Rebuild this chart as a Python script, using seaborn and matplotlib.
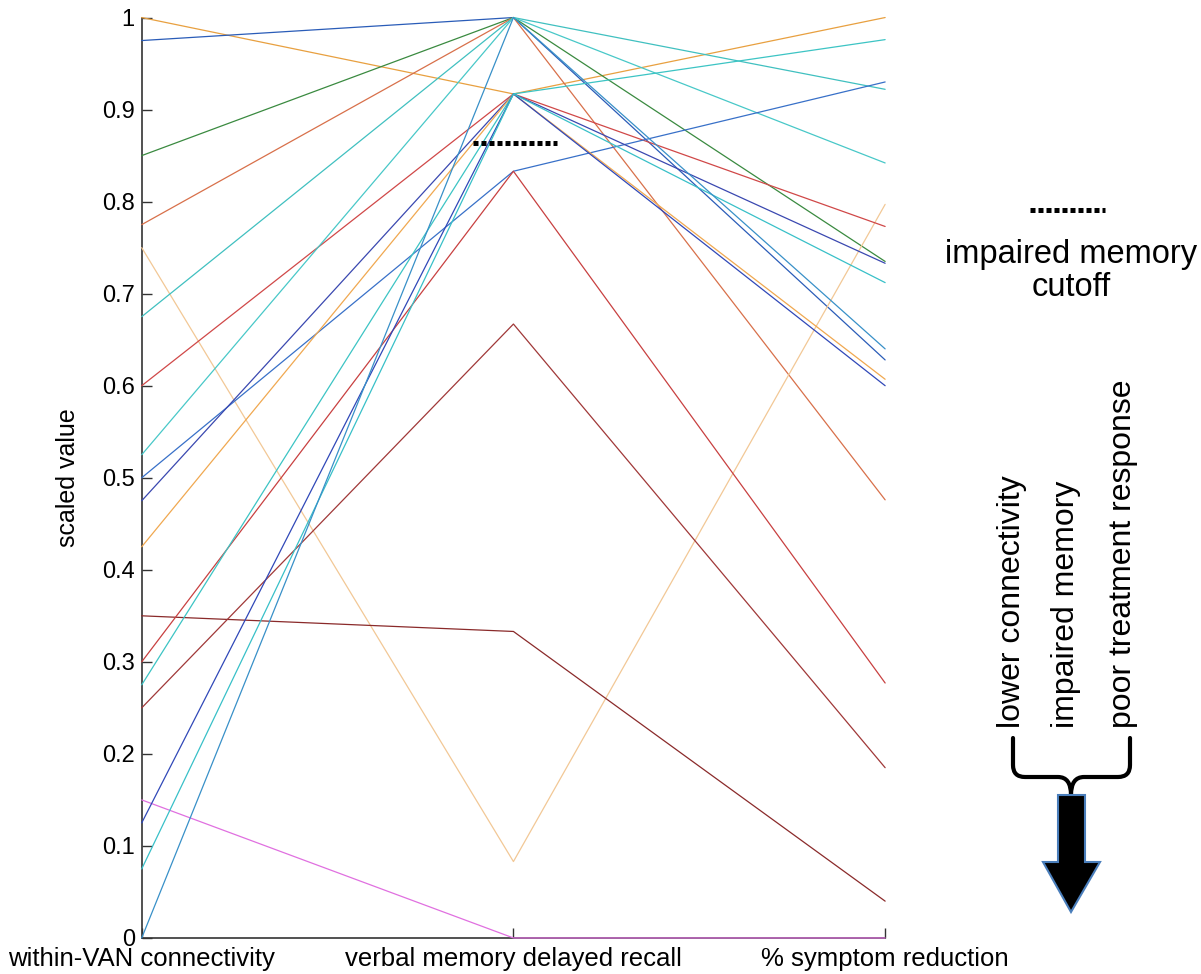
import matplotlib

matplotlib.use("Agg")

import matplotlib.pyplot as plt
import numpy as np
import pandas as pd
import seaborn as sns
from matplotlib.patches import PathPatch, Polygon
from matplotlib.path import Path

# parallel coordinates, one line per patient (scaled 0..1 on each axis)
AXIS_LABELS = [
    "within-VAN connectivity",
    "verbal memory delayed recall",
    "% symptom reduction",
]
VAN = [1.0, 0.975, 0.85, 0.775, 0.75, 0.675, 0.6, 0.525, 0.5, 0.475,
       0.425, 0.35, 0.3, 0.275, 0.25, 0.15, 0.125, 0.075, 0.0]
MEMORY = [0.917, 1.0, 1.0, 1.0, 0.083, 1.0, 0.917, 1.0, 0.833, 0.917,
          0.917, 0.333, 0.833, 0.917, 0.667, 0.0, 0.917, 0.917, 1.0]
SYMPTOM = [1.0, 0.628, 0.735, 0.476, 0.797, 0.922, 0.773, 0.842, 0.93, 0.733,
           0.607, 0.04, 0.277, 0.976, 0.185, 0.0, 0.6, 0.712, 0.64]
COLORS = ["#e8a040", "#2a5cb8", "#3a8a40", "#d8704a", "#f2c896", "#40c0c0",
          "#d04848", "#48c8c8", "#3870c8", "#3a48b0", "#f0a850", "#8a2a2a",
          "#c84040", "#3cc4c4", "#a03838", "#e070e0", "#3048b8", "#38c0c8",
          "#3890c8"]
CUTOFF = 0.864
YTICKS = [0, 0.1, 0.2, 0.3, 0.4, 0.5, 0.6, 0.7, 0.8, 0.9, 1]

sns.set_theme(style="ticks")
plt.rcParams["font.family"] = ["Liberation Sans", "DejaVu Sans"]
plt.rcParams.update({"text.color": "black", "axes.labelcolor": "black",
                     "xtick.labelcolor": "black", "ytick.labelcolor": "black"})

subjects = [f"s{i:02d}" for i in range(len(VAN))]
wide = pd.DataFrame({"subject": subjects, "0": VAN, "1": MEMORY, "2": SYMPTOM})
df = wide.melt(id_vars="subject", var_name="axis", value_name="scaled")
df["axis"] = df["axis"].astype(int)

fig = plt.figure(figsize=(12.01, 9.74), dpi=100)
ax = fig.add_axes([0.118, 0.037, 0.619, 0.945])
sns.lineplot(
    df, x="axis", y="scaled", hue="subject", units="subject", estimator=None,
    palette=dict(zip(subjects, COLORS)), linewidth=0.9, legend=False, ax=ax,
)
for line in ax.lines:
    line.set_clip_on(False)
    line.set_zorder(3)

ax.plot([0.89, 1.117], [CUTOFF, CUTOFF], color="black", lw=3.6,
        linestyle=(0, (1, 0.6)), dash_capstyle="butt", zorder=4)

ax.set_xlim(0, 2)
ax.set_ylim(0, 1)
ax.set_xticks([0, 1, 2], AXIS_LABELS)
ax.set_yticks(YTICKS, [f"{t:g}" for t in YTICKS])
ax.tick_params(direction="in", length=7, width=1, color="#333333", pad=5)
ax.tick_params(axis="y", labelsize=17)
ax.tick_params(axis="x", labelsize=18.5, pad=6.5)
ax.set_xlabel("")
ax.set_ylabel("scaled value", fontsize=18)
ax.yaxis.set_label_coords(-0.083, 0.5)
for side in ("top", "right"):
    ax.spines[side].set_visible(False)
for side in ("left", "bottom"):
    ax.spines[side].set_color("#333333")
    ax.spines[side].set_linewidth(1.2)
    ax.spines[side].set_zorder(1)

# annotations on the right, drawn in pixel coordinates
over = fig.add_axes([0, 0, 1, 1])
over.set_xlim(0, 1201)
over.set_ylim(974, 0)
over.axis("off")
over.patch.set_alpha(0)

over.plot([1030, 1105], [210, 210], color="black", lw=3.6,
          linestyle=(0, (1, 0.6)), dash_capstyle="butt")
over.text(1071, 255, "impaired memory", ha="center", va="center", fontsize=23.5)
over.text(1071, 288, "cutoff", ha="center", va="center", fontsize=23.5)

for x, txt in [(1012, "lower connectivity"), (1066, "impaired memory"),
               (1123, "poor treatment response")]:
    over.text(x, 728, txt, rotation=90, ha="center", va="bottom", fontsize=23)

brace = Path(
    [(1013, 738), (1013, 765), (1013, 777), (1025, 777), (1058, 777),
     (1071, 777), (1071, 795), (1071, 777), (1084, 777), (1118, 777),
     (1130, 777), (1130, 765), (1130, 738)],
    [Path.MOVETO, Path.LINETO, Path.CURVE3, Path.CURVE3, Path.LINETO,
     Path.CURVE3, Path.CURVE3, Path.CURVE3, Path.CURVE3, Path.LINETO,
     Path.CURVE3, Path.CURVE3, Path.LINETO],
)
over.add_patch(PathPatch(brace, fill=False, lw=3, color="black",
                         capstyle="round", joinstyle="round"))
arrow = Polygon(
    [(1058, 795), (1085, 795), (1085, 862), (1100, 862), (1071, 912),
     (1043, 862), (1058, 862)],
    closed=True, facecolor="black", edgecolor="#4a7ebb", lw=1.5,
)
over.add_patch(arrow)

fig.savefig("out.png", dpi=100, facecolor="white")
